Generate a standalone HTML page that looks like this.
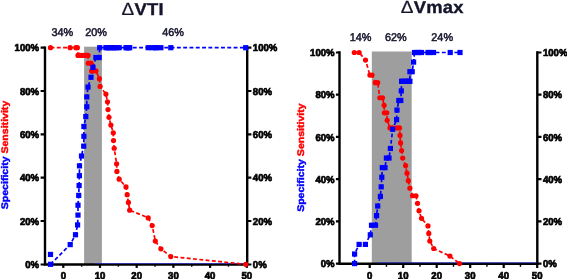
<!DOCTYPE html>
<html><head><meta charset="utf-8"><title>Specificity Sensitivity</title>
<style>
html,body{margin:0;padding:0;background:#fff;}
body{width:567px;height:279px;overflow:hidden;}
svg{display:block;font-family:"Liberation Sans",Arial,sans-serif;text-rendering:geometricPrecision;}
.t{font-size:10px;font-weight:bold;fill:#000;stroke:#000;stroke-width:0.7px;}
.p{font-size:11.2px;fill:#14142c;stroke:#14142c;stroke-width:0.5px;}
.h{font-size:17.2px;font-weight:bold;fill:#14142c;stroke:#14142c;stroke-width:0.35px;letter-spacing:0.25px;}
.d{font-weight:normal;font-size:17.8px;stroke-width:0.2px;}
.l{font-size:9.6px;font-weight:bold;stroke-width:0.4px;}
</style></head><body>
<svg width="567" height="279" viewBox="0 0 567 279">
<rect width="567" height="279" fill="#fff"/>
<g>
<rect x="84.1" y="46.7" width="17.8" height="217.6" fill="#9e9e9f"/>
<path d="M45 46.5V265.75M247.2 46.5V265.75M43.75 264.5H248.45" stroke="#000" stroke-width="2.4" fill="none"/>
<path d="M95 263.55H245.95" stroke="#2c2ce0" stroke-width="0.7" fill="none"/>
<path d="M40.6 47.7H45M247.2 47.7H251.4" stroke="#000" stroke-width="2.2"/>
<text transform="translate(39.1 51.3) scale(0.96 1)" text-anchor="end" class="t">100%</text>
<text transform="translate(252.8 51.3) scale(0.96 1)" class="t">100%</text>
<path d="M40.6 91.02H45M247.2 91.02H251.4" stroke="#000" stroke-width="2.2"/>
<text transform="translate(39.1 94.62) scale(0.96 1)" text-anchor="end" class="t">80%</text>
<text transform="translate(252.8 94.62) scale(0.96 1)" class="t">80%</text>
<path d="M40.6 134.34H45M247.2 134.34H251.4" stroke="#000" stroke-width="2.2"/>
<text transform="translate(39.1 137.94) scale(0.96 1)" text-anchor="end" class="t">60%</text>
<text transform="translate(252.8 137.94) scale(0.96 1)" class="t">60%</text>
<path d="M40.6 177.66H45M247.2 177.66H251.4" stroke="#000" stroke-width="2.2"/>
<text transform="translate(39.1 181.26) scale(0.96 1)" text-anchor="end" class="t">40%</text>
<text transform="translate(252.8 181.26) scale(0.96 1)" class="t">40%</text>
<path d="M40.6 220.98H45M247.2 220.98H251.4" stroke="#000" stroke-width="2.2"/>
<text transform="translate(39.1 224.58) scale(0.96 1)" text-anchor="end" class="t">20%</text>
<text transform="translate(252.8 224.58) scale(0.96 1)" class="t">20%</text>
<path d="M40.6 264.5H45M247.2 264.5H251.4" stroke="#000" stroke-width="2.2"/>
<text transform="translate(39.1 267.9) scale(0.96 1)" text-anchor="end" class="t">0%</text>
<text transform="translate(252.8 267.9) scale(0.96 1)" class="t">0%</text>
<path d="M63.3 264.5V267.9" stroke="#000" stroke-width="2.2"/>
<text transform="translate(63.3 279.4) scale(0.96 1)" text-anchor="middle" class="t">0</text>
<path d="M81.65 264.5V266.7" stroke="#000" stroke-width="1.4"/>
<path d="M100 264.5V267.9" stroke="#000" stroke-width="2.2"/>
<text transform="translate(100 279.4) scale(0.96 1)" text-anchor="middle" class="t">10</text>
<path d="M118.35 264.5V266.7" stroke="#000" stroke-width="1.4"/>
<path d="M136.7 264.5V267.9" stroke="#000" stroke-width="2.2"/>
<text transform="translate(136.7 279.4) scale(0.96 1)" text-anchor="middle" class="t">20</text>
<path d="M155.05 264.5V266.7" stroke="#000" stroke-width="1.4"/>
<path d="M173.4 264.5V267.9" stroke="#000" stroke-width="2.2"/>
<text transform="translate(173.4 279.4) scale(0.96 1)" text-anchor="middle" class="t">30</text>
<path d="M191.75 264.5V266.7" stroke="#000" stroke-width="1.4"/>
<path d="M210.1 264.5V267.9" stroke="#000" stroke-width="2.2"/>
<text transform="translate(210.1 279.4) scale(0.96 1)" text-anchor="middle" class="t">40</text>
<path d="M228.45 264.5V266.7" stroke="#000" stroke-width="1.4"/>
<path d="M246.8 264.5V267.9" stroke="#000" stroke-width="2.2"/>
<text transform="translate(246.8 279.4) scale(0.96 1)" text-anchor="middle" class="t">50</text>
<polyline points="50.5,47.7 70.1,47.7 75.8,47.7 77.4,47.7 78,55.44 78.7,55.44 79.1,55.44 79.5,55.44 81.5,55.44 83.8,55.44 85.8,55.44 86.8,55.44 88,55.44 88.3,63.17 91,63.17 91.6,70.91 93,70.91 95.9,70.91 99.4,78.64 100.1,86.38 105.9,94.11 107.5,101.85 108,109.59 109,117.32 110.9,125.06 113.3,132.79 113.5,140.53 114.2,148.26 116.6,163.74 116.9,171.47 119.2,179.21 126,186.94 127.2,194.68 128.4,202.41 129.7,210.15 148.2,217.89 152.2,225.62 155.3,241.09 160.9,248.83 170.8,256.56 245.7,264.3" fill="none" stroke="#ff0000" stroke-width="1.7" stroke-dasharray="3.9 2.4"/>
<polyline points="50.5,264.3 70.2,244.61 75.5,234.76 77.6,224.92 78,215.07 78,205.23 78.7,195.38 79.1,185.54 79.4,175.69 79.5,165.85 81.5,156 83.7,146.15 83.9,136.31 83.9,126.46 85.8,116.62 86.8,106.77 86.8,96.93 88,87.08 91,77.24 93,67.39 95.9,57.55 99.2,57.55 99.7,47.7 105.9,47.7 107.5,47.7 109,47.7 110.9,47.7 113.3,47.7 114.2,47.7 116.6,47.7 119.2,47.7 126,47.7 127.2,47.7 128.4,47.7 129.7,47.7 148.2,47.7 152.2,47.7 155.3,47.7 156.6,47.7 160.9,47.7 170.8,47.7 245.7,47.7" fill="none" stroke="#0000ff" stroke-width="1.7" stroke-dasharray="3.9 2.4"/>
<ellipse cx="50.5" cy="47.7" rx="2.6" ry="2.6" fill="#ff0000"/>
<ellipse cx="70.1" cy="47.7" rx="2.6" ry="2.6" fill="#ff0000"/>
<ellipse cx="75.8" cy="47.7" rx="2.6" ry="2.6" fill="#ff0000"/>
<ellipse cx="77.4" cy="47.7" rx="2.6" ry="2.6" fill="#ff0000"/>
<ellipse cx="78" cy="55.44" rx="2.6" ry="2.6" fill="#ff0000"/>
<ellipse cx="78.7" cy="55.44" rx="2.6" ry="2.6" fill="#ff0000"/>
<ellipse cx="79.1" cy="55.44" rx="2.6" ry="2.6" fill="#ff0000"/>
<ellipse cx="79.5" cy="55.44" rx="2.6" ry="2.6" fill="#ff0000"/>
<ellipse cx="81.5" cy="55.44" rx="2.6" ry="2.6" fill="#ff0000"/>
<ellipse cx="83.8" cy="55.44" rx="2.6" ry="2.6" fill="#ff0000"/>
<ellipse cx="85.8" cy="55.44" rx="2.6" ry="2.6" fill="#ff0000"/>
<ellipse cx="86.8" cy="55.44" rx="2.6" ry="2.6" fill="#ff0000"/>
<ellipse cx="88" cy="55.44" rx="2.6" ry="2.6" fill="#ff0000"/>
<ellipse cx="88.3" cy="63.17" rx="2.6" ry="2.6" fill="#ff0000"/>
<ellipse cx="91" cy="63.17" rx="2.6" ry="2.6" fill="#ff0000"/>
<ellipse cx="91.6" cy="70.91" rx="2.6" ry="2.6" fill="#ff0000"/>
<ellipse cx="93" cy="70.91" rx="2.6" ry="2.6" fill="#ff0000"/>
<ellipse cx="95.9" cy="70.91" rx="2.6" ry="2.6" fill="#ff0000"/>
<ellipse cx="99.4" cy="78.64" rx="2.6" ry="2.6" fill="#ff0000"/>
<ellipse cx="100.1" cy="86.38" rx="2.6" ry="2.6" fill="#ff0000"/>
<ellipse cx="105.9" cy="94.11" rx="2.6" ry="2.6" fill="#ff0000"/>
<ellipse cx="107.5" cy="101.85" rx="2.6" ry="2.6" fill="#ff0000"/>
<ellipse cx="108" cy="109.59" rx="2.6" ry="2.6" fill="#ff0000"/>
<ellipse cx="109" cy="117.32" rx="2.6" ry="2.6" fill="#ff0000"/>
<ellipse cx="110.9" cy="125.06" rx="2.6" ry="2.6" fill="#ff0000"/>
<ellipse cx="113.3" cy="132.79" rx="2.6" ry="2.6" fill="#ff0000"/>
<ellipse cx="113.5" cy="140.53" rx="2.6" ry="2.6" fill="#ff0000"/>
<ellipse cx="114.2" cy="148.26" rx="2.6" ry="2.6" fill="#ff0000"/>
<ellipse cx="116.6" cy="163.74" rx="2.6" ry="2.6" fill="#ff0000"/>
<ellipse cx="116.9" cy="171.47" rx="2.6" ry="2.6" fill="#ff0000"/>
<ellipse cx="119.2" cy="179.21" rx="2.6" ry="2.6" fill="#ff0000"/>
<ellipse cx="126" cy="186.94" rx="2.6" ry="2.6" fill="#ff0000"/>
<ellipse cx="127.2" cy="194.68" rx="2.6" ry="2.6" fill="#ff0000"/>
<ellipse cx="128.4" cy="202.41" rx="2.6" ry="2.6" fill="#ff0000"/>
<ellipse cx="129.7" cy="210.15" rx="2.6" ry="2.6" fill="#ff0000"/>
<ellipse cx="148.2" cy="217.89" rx="2.6" ry="2.6" fill="#ff0000"/>
<ellipse cx="152.2" cy="225.62" rx="2.6" ry="2.6" fill="#ff0000"/>
<ellipse cx="155.3" cy="241.09" rx="2.6" ry="2.6" fill="#ff0000"/>
<ellipse cx="160.9" cy="248.83" rx="2.6" ry="2.6" fill="#ff0000"/>
<ellipse cx="170.8" cy="256.56" rx="2.6" ry="2.6" fill="#ff0000"/>
<ellipse cx="245.7" cy="264.3" rx="2.6" ry="2.6" fill="#ff0000"/>
<rect x="47.9" y="261.7" width="5.2" height="5.2" fill="#0000ff"/>
<rect x="67.6" y="242.01" width="5.2" height="5.2" fill="#0000ff"/>
<rect x="72.9" y="232.16" width="5.2" height="5.2" fill="#0000ff"/>
<rect x="75" y="222.32" width="5.2" height="5.2" fill="#0000ff"/>
<rect x="75.4" y="212.47" width="5.2" height="5.2" fill="#0000ff"/>
<rect x="75.4" y="202.63" width="5.2" height="5.2" fill="#0000ff"/>
<rect x="76.1" y="192.78" width="5.2" height="5.2" fill="#0000ff"/>
<rect x="76.5" y="182.94" width="5.2" height="5.2" fill="#0000ff"/>
<rect x="76.8" y="173.09" width="5.2" height="5.2" fill="#0000ff"/>
<rect x="76.9" y="163.25" width="5.2" height="5.2" fill="#0000ff"/>
<rect x="78.9" y="153.4" width="5.2" height="5.2" fill="#0000ff"/>
<rect x="81.1" y="143.55" width="5.2" height="5.2" fill="#0000ff"/>
<rect x="81.3" y="133.71" width="5.2" height="5.2" fill="#0000ff"/>
<rect x="81.3" y="123.86" width="5.2" height="5.2" fill="#0000ff"/>
<rect x="83.2" y="114.02" width="5.2" height="5.2" fill="#0000ff"/>
<rect x="84.2" y="104.17" width="5.2" height="5.2" fill="#0000ff"/>
<rect x="84.2" y="94.33" width="5.2" height="5.2" fill="#0000ff"/>
<rect x="85.4" y="84.48" width="5.2" height="5.2" fill="#0000ff"/>
<rect x="88.4" y="74.64" width="5.2" height="5.2" fill="#0000ff"/>
<rect x="90.4" y="64.79" width="5.2" height="5.2" fill="#0000ff"/>
<rect x="93.3" y="54.95" width="5.2" height="5.2" fill="#0000ff"/>
<rect x="96.6" y="54.95" width="5.2" height="5.2" fill="#0000ff"/>
<rect x="97.1" y="45.1" width="5.2" height="5.2" fill="#0000ff"/>
<rect x="103.3" y="45.1" width="5.2" height="5.2" fill="#0000ff"/>
<rect x="104.9" y="45.1" width="5.2" height="5.2" fill="#0000ff"/>
<rect x="106.4" y="45.1" width="5.2" height="5.2" fill="#0000ff"/>
<rect x="108.3" y="45.1" width="5.2" height="5.2" fill="#0000ff"/>
<rect x="110.7" y="45.1" width="5.2" height="5.2" fill="#0000ff"/>
<rect x="111.6" y="45.1" width="5.2" height="5.2" fill="#0000ff"/>
<rect x="114" y="45.1" width="5.2" height="5.2" fill="#0000ff"/>
<rect x="116.6" y="45.1" width="5.2" height="5.2" fill="#0000ff"/>
<rect x="123.4" y="45.1" width="5.2" height="5.2" fill="#0000ff"/>
<rect x="124.6" y="45.1" width="5.2" height="5.2" fill="#0000ff"/>
<rect x="125.8" y="45.1" width="5.2" height="5.2" fill="#0000ff"/>
<rect x="127.1" y="45.1" width="5.2" height="5.2" fill="#0000ff"/>
<rect x="145.6" y="45.1" width="5.2" height="5.2" fill="#0000ff"/>
<rect x="149.6" y="45.1" width="5.2" height="5.2" fill="#0000ff"/>
<rect x="152.7" y="45.1" width="5.2" height="5.2" fill="#0000ff"/>
<rect x="154" y="45.1" width="5.2" height="5.2" fill="#0000ff"/>
<rect x="158.3" y="45.1" width="5.2" height="5.2" fill="#0000ff"/>
<rect x="168.2" y="45.1" width="5.2" height="5.2" fill="#0000ff"/>
<rect x="243.1" y="45.1" width="5.2" height="5.2" fill="#0000ff"/>
<rect x="47.9" y="251.85" width="5.2" height="5.2" fill="#0000ff"/>
<text transform="translate(62.3 36.3) scale(0.97 1)" text-anchor="middle" class="p">34%</text>
<text transform="translate(96 36.3) scale(0.97 1)" text-anchor="middle" class="p">20%</text>
<text transform="translate(173 36.3) scale(0.97 1)" text-anchor="middle" class="p">46%</text>
<text transform="translate(142.7 15.1) scale(1.07 1)" text-anchor="middle" class="h"><tspan class="d">Δ</tspan>VTI</text>
<text transform="translate(8.3 155) rotate(-90) scale(1.1 1)" text-anchor="middle" class="l"><tspan fill="#0000ff" stroke="#0000ff">Specificity</tspan> <tspan fill="#ff0000" stroke="#ff0000">Sensitivity</tspan></text>
</g>
<g>
<rect x="371.8" y="51.5" width="39.9" height="212.1" fill="#9e9e9f"/>
<path d="M339.5 51.3V264.95M537.3 51.3V264.95M338.25 263.7H538.55" stroke="#000" stroke-width="2.4" fill="none"/>
<path d="M377 262.75H536.05" stroke="#2c2ce0" stroke-width="0.7" fill="none"/>
<path d="M335.9 52.5H339.5M537.3 52.5H541.5" stroke="#000" stroke-width="2.2"/>
<text transform="translate(334.6 56.1) scale(0.96 1)" text-anchor="end" class="t">100%</text>
<text transform="translate(542.9 56.1) scale(0.96 1)" class="t">100%</text>
<path d="M335.9 94.72H339.5M537.3 94.72H541.5" stroke="#000" stroke-width="2.2"/>
<text transform="translate(334.6 98.32) scale(0.96 1)" text-anchor="end" class="t">80%</text>
<text transform="translate(542.9 98.32) scale(0.96 1)" class="t">80%</text>
<path d="M335.9 136.94H339.5M537.3 136.94H541.5" stroke="#000" stroke-width="2.2"/>
<text transform="translate(334.6 140.54) scale(0.96 1)" text-anchor="end" class="t">60%</text>
<text transform="translate(542.9 140.54) scale(0.96 1)" class="t">60%</text>
<path d="M335.9 179.16H339.5M537.3 179.16H541.5" stroke="#000" stroke-width="2.2"/>
<text transform="translate(334.6 182.76) scale(0.96 1)" text-anchor="end" class="t">40%</text>
<text transform="translate(542.9 182.76) scale(0.96 1)" class="t">40%</text>
<path d="M335.9 221.38H339.5M537.3 221.38H541.5" stroke="#000" stroke-width="2.2"/>
<text transform="translate(334.6 224.98) scale(0.96 1)" text-anchor="end" class="t">20%</text>
<text transform="translate(542.9 224.98) scale(0.96 1)" class="t">20%</text>
<path d="M335.9 263.7H339.5M537.3 263.7H541.5" stroke="#000" stroke-width="2.2"/>
<text transform="translate(334.6 267.2) scale(0.96 1)" text-anchor="end" class="t">0%</text>
<text transform="translate(542.9 267.2) scale(0.96 1)" class="t">0%</text>
<path d="M369.7 263.7V268" stroke="#000" stroke-width="2.2"/>
<text transform="translate(369.7 279.4) scale(0.96 1)" text-anchor="middle" class="t">0</text>
<path d="M386.45 263.7V266.8" stroke="#000" stroke-width="1.4"/>
<path d="M403.2 263.7V268" stroke="#000" stroke-width="2.2"/>
<text transform="translate(403.2 279.4) scale(0.96 1)" text-anchor="middle" class="t">10</text>
<path d="M419.95 263.7V266.8" stroke="#000" stroke-width="1.4"/>
<path d="M436.7 263.7V268" stroke="#000" stroke-width="2.2"/>
<text transform="translate(436.7 279.4) scale(0.96 1)" text-anchor="middle" class="t">20</text>
<path d="M453.45 263.7V266.8" stroke="#000" stroke-width="1.4"/>
<path d="M470.2 263.7V268" stroke="#000" stroke-width="2.2"/>
<text transform="translate(470.2 279.4) scale(0.96 1)" text-anchor="middle" class="t">30</text>
<path d="M486.95 263.7V266.8" stroke="#000" stroke-width="1.4"/>
<path d="M503.7 263.7V268" stroke="#000" stroke-width="2.2"/>
<text transform="translate(503.7 279.4) scale(0.96 1)" text-anchor="middle" class="t">40</text>
<path d="M520.45 263.7V266.8" stroke="#000" stroke-width="1.4"/>
<path d="M537.2 263.7V268" stroke="#000" stroke-width="2.2"/>
<text transform="translate(537.2 279.4) scale(0.96 1)" text-anchor="middle" class="t">50</text>
<polyline points="354.3,52.5 359.1,52.5 365.5,60.04 369.9,75.12 372,75.12 375.4,82.66 377.7,82.66 379.8,97.74 382.5,97.74 384.1,105.28 384.4,112.81 386.8,112.81 387.2,120.35 390,127.89 392.7,127.89 397,127.89 399.5,127.89 400,135.43 400.6,142.97 401.6,150.51 402.7,158.05 405.6,165.59 407,173.13 408.3,180.67 409.9,188.21 412.5,195.75 416,195.75 417.5,203.29 419,210.83 421.5,218.36 428,225.9 428.8,233.44 429.8,240.98 433.7,248.52 449.9,256.06 459.5,263.6" fill="none" stroke="#ff0000" stroke-width="1.7" stroke-dasharray="3.9 2.4"/>
<polyline points="354.6,263.6 354.6,254 359.1,244.41 365.4,244.41 370.3,234.81 371.5,225.22 375.5,225.22 376.6,215.62 377.7,206.03 380.4,196.43 381.2,186.84 381.8,177.24 382.3,167.65 385,167.65 386.4,158.05 389,158.05 390.4,148.45 392.7,129.26 396.6,119.67 397,110.07 398.8,100.48 400.8,100.48 401.3,90.88 401.6,81.29 402.7,81.29 405.6,81.29 407,81.29 408.3,81.29 409.9,81.29 409.9,71.69 412.2,71.69 413.6,62.1 414.5,52.5 417.5,52.5 419,52.5 421.5,52.5 428,52.5 429.8,52.5 433.5,52.5 450.2,52.5 460,52.5" fill="none" stroke="#0000ff" stroke-width="1.7" stroke-dasharray="3.9 2.4"/>
<ellipse cx="354.3" cy="52.5" rx="2.6" ry="2.6" fill="#ff0000"/>
<ellipse cx="359.1" cy="52.5" rx="2.6" ry="2.6" fill="#ff0000"/>
<ellipse cx="365.5" cy="60.04" rx="2.6" ry="2.6" fill="#ff0000"/>
<ellipse cx="369.9" cy="75.12" rx="2.6" ry="2.6" fill="#ff0000"/>
<ellipse cx="372" cy="75.12" rx="2.6" ry="2.6" fill="#ff0000"/>
<ellipse cx="375.4" cy="82.66" rx="2.6" ry="2.6" fill="#ff0000"/>
<ellipse cx="377.7" cy="82.66" rx="2.6" ry="2.6" fill="#ff0000"/>
<ellipse cx="379.8" cy="97.74" rx="2.6" ry="2.6" fill="#ff0000"/>
<ellipse cx="382.5" cy="97.74" rx="2.6" ry="2.6" fill="#ff0000"/>
<ellipse cx="384.1" cy="105.28" rx="2.6" ry="2.6" fill="#ff0000"/>
<ellipse cx="384.4" cy="112.81" rx="2.6" ry="2.6" fill="#ff0000"/>
<ellipse cx="386.8" cy="112.81" rx="2.6" ry="2.6" fill="#ff0000"/>
<ellipse cx="387.2" cy="120.35" rx="2.6" ry="2.6" fill="#ff0000"/>
<ellipse cx="390" cy="127.89" rx="2.6" ry="2.6" fill="#ff0000"/>
<ellipse cx="392.7" cy="127.89" rx="2.6" ry="2.6" fill="#ff0000"/>
<ellipse cx="397" cy="127.89" rx="2.6" ry="2.6" fill="#ff0000"/>
<ellipse cx="399.5" cy="127.89" rx="2.6" ry="2.6" fill="#ff0000"/>
<ellipse cx="400" cy="135.43" rx="2.6" ry="2.6" fill="#ff0000"/>
<ellipse cx="400.6" cy="142.97" rx="2.6" ry="2.6" fill="#ff0000"/>
<ellipse cx="401.6" cy="150.51" rx="2.6" ry="2.6" fill="#ff0000"/>
<ellipse cx="402.7" cy="158.05" rx="2.6" ry="2.6" fill="#ff0000"/>
<ellipse cx="405.6" cy="165.59" rx="2.6" ry="2.6" fill="#ff0000"/>
<ellipse cx="407" cy="173.13" rx="2.6" ry="2.6" fill="#ff0000"/>
<ellipse cx="408.3" cy="180.67" rx="2.6" ry="2.6" fill="#ff0000"/>
<ellipse cx="409.9" cy="188.21" rx="2.6" ry="2.6" fill="#ff0000"/>
<ellipse cx="412.5" cy="195.75" rx="2.6" ry="2.6" fill="#ff0000"/>
<ellipse cx="416" cy="195.75" rx="2.6" ry="2.6" fill="#ff0000"/>
<ellipse cx="417.5" cy="203.29" rx="2.6" ry="2.6" fill="#ff0000"/>
<ellipse cx="419" cy="210.83" rx="2.6" ry="2.6" fill="#ff0000"/>
<ellipse cx="421.5" cy="218.36" rx="2.6" ry="2.6" fill="#ff0000"/>
<ellipse cx="428" cy="225.9" rx="2.6" ry="2.6" fill="#ff0000"/>
<ellipse cx="428.8" cy="233.44" rx="2.6" ry="2.6" fill="#ff0000"/>
<ellipse cx="429.8" cy="240.98" rx="2.6" ry="2.6" fill="#ff0000"/>
<ellipse cx="433.7" cy="248.52" rx="2.6" ry="2.6" fill="#ff0000"/>
<ellipse cx="449.9" cy="256.06" rx="2.6" ry="2.6" fill="#ff0000"/>
<ellipse cx="459.5" cy="263.6" rx="2.6" ry="2.6" fill="#ff0000"/>
<rect x="352" y="261" width="5.2" height="5.2" fill="#0000ff"/>
<rect x="352" y="251.4" width="5.2" height="5.2" fill="#0000ff"/>
<rect x="356.5" y="241.81" width="5.2" height="5.2" fill="#0000ff"/>
<rect x="362.8" y="241.81" width="5.2" height="5.2" fill="#0000ff"/>
<rect x="367.7" y="232.21" width="5.2" height="5.2" fill="#0000ff"/>
<rect x="368.9" y="222.62" width="5.2" height="5.2" fill="#0000ff"/>
<rect x="372.9" y="222.62" width="5.2" height="5.2" fill="#0000ff"/>
<rect x="374" y="213.02" width="5.2" height="5.2" fill="#0000ff"/>
<rect x="375.1" y="203.43" width="5.2" height="5.2" fill="#0000ff"/>
<rect x="377.8" y="193.83" width="5.2" height="5.2" fill="#0000ff"/>
<rect x="378.6" y="184.24" width="5.2" height="5.2" fill="#0000ff"/>
<rect x="379.2" y="174.64" width="5.2" height="5.2" fill="#0000ff"/>
<rect x="379.7" y="165.05" width="5.2" height="5.2" fill="#0000ff"/>
<rect x="382.4" y="165.05" width="5.2" height="5.2" fill="#0000ff"/>
<rect x="383.8" y="155.45" width="5.2" height="5.2" fill="#0000ff"/>
<rect x="386.4" y="155.45" width="5.2" height="5.2" fill="#0000ff"/>
<rect x="387.8" y="145.85" width="5.2" height="5.2" fill="#0000ff"/>
<rect x="390.1" y="126.66" width="5.2" height="5.2" fill="#0000ff"/>
<rect x="394" y="117.07" width="5.2" height="5.2" fill="#0000ff"/>
<rect x="394.4" y="107.47" width="5.2" height="5.2" fill="#0000ff"/>
<rect x="396.2" y="97.88" width="5.2" height="5.2" fill="#0000ff"/>
<rect x="398.2" y="97.88" width="5.2" height="5.2" fill="#0000ff"/>
<rect x="398.7" y="88.28" width="5.2" height="5.2" fill="#0000ff"/>
<rect x="399" y="78.69" width="5.2" height="5.2" fill="#0000ff"/>
<rect x="400.1" y="78.69" width="5.2" height="5.2" fill="#0000ff"/>
<rect x="403" y="78.69" width="5.2" height="5.2" fill="#0000ff"/>
<rect x="404.4" y="78.69" width="5.2" height="5.2" fill="#0000ff"/>
<rect x="405.7" y="78.69" width="5.2" height="5.2" fill="#0000ff"/>
<rect x="407.3" y="78.69" width="5.2" height="5.2" fill="#0000ff"/>
<rect x="407.3" y="69.09" width="5.2" height="5.2" fill="#0000ff"/>
<rect x="409.6" y="69.09" width="5.2" height="5.2" fill="#0000ff"/>
<rect x="411" y="59.5" width="5.2" height="5.2" fill="#0000ff"/>
<rect x="411.9" y="49.9" width="5.2" height="5.2" fill="#0000ff"/>
<rect x="414.9" y="49.9" width="5.2" height="5.2" fill="#0000ff"/>
<rect x="416.4" y="49.9" width="5.2" height="5.2" fill="#0000ff"/>
<rect x="418.9" y="49.9" width="5.2" height="5.2" fill="#0000ff"/>
<rect x="425.4" y="49.9" width="5.2" height="5.2" fill="#0000ff"/>
<rect x="427.2" y="49.9" width="5.2" height="5.2" fill="#0000ff"/>
<rect x="430.9" y="49.9" width="5.2" height="5.2" fill="#0000ff"/>
<rect x="447.6" y="49.9" width="5.2" height="5.2" fill="#0000ff"/>
<rect x="457.4" y="49.9" width="5.2" height="5.2" fill="#0000ff"/>
<text transform="translate(360.6 41.3) scale(0.97 1)" text-anchor="middle" class="p">14%</text>
<text transform="translate(395.8 41.3) scale(0.97 1)" text-anchor="middle" class="p">62%</text>
<text transform="translate(442.2 41.3) scale(0.97 1)" text-anchor="middle" class="p">24%</text>
<text transform="translate(432.2 13) scale(1.07 1)" text-anchor="middle" class="h"><tspan class="d">Δ</tspan>Vmax</text>
<text transform="translate(304.4 157.6) rotate(-90) scale(1.1 1)" text-anchor="middle" class="l"><tspan fill="#0000ff" stroke="#0000ff">Specificity</tspan> <tspan fill="#ff0000" stroke="#ff0000">Sensitivity</tspan></text>
</g>
</svg>
</body></html>
